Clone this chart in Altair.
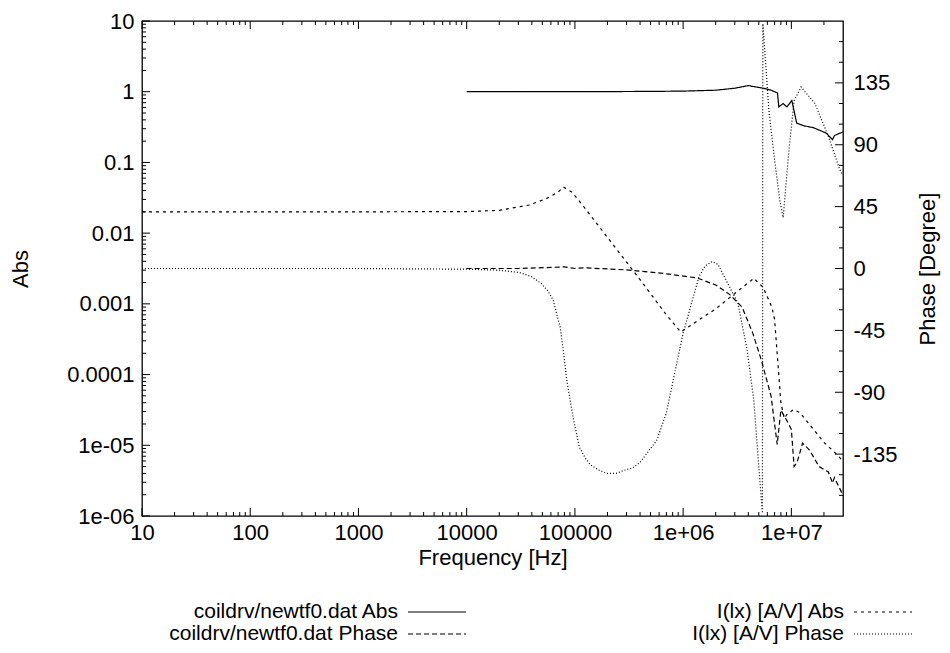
import altair as alt
import pandas as pd

# ---------------- data ----------------
freq_coil_abs = [1e4, 1e5, 5e5, 1e6, 2e6, 3e6, 4e6, 5.5e6, 6.5e6, 7.0e6, 7.45e6, 7.65e6,
                 8.4e6, 9.1e6, 1.01e7, 1.12e7, 1.3e7, 1.6e7, 2.1e7, 2.4e7, 2.5e7, 3e7]
abs_coil = [1.0, 1.0, 1.01, 1.02, 1.05, 1.12, 1.22, 1.12, 1.05, 1.0, 0.96, 0.61,
            0.68, 0.61, 0.75, 0.36, 0.33, 0.31, 0.26, 0.21, 0.24, 0.27]

freq_coil_phase = [1e4, 3e4, 6e4, 8e4, 1e5, 1.2e5, 3e5, 6.2e5, 1.35e6, 2e6, 2.7e6, 3.5e6,
                   4.4e6, 5.3e6, 6.5e6, 7.4e6, 8.0e6, 9.0e6, 1.0e7, 1.06e7, 1.13e7, 1.27e7,
                   1.47e7, 1.8e7, 2.2e7, 2.4e7, 2.5e7, 3e7]
phase_coil = [0, 0, 0.8, 1.2, 0, 0.5, -1, -3.3, -6.9, -12, -19, -28,
              -47, -67, -93, -128, -103, -110, -117, -144, -141, -127,
              -132, -144, -148, -156, -152, -165]

freq_ilx_abs = [10, 100, 1e3, 1e4, 2e4, 3.8e4, 5.5e4, 7e4, 7.8e4, 9.4e4, 1.2e5, 2e5, 4e5,
                7e5, 9.5e5, 1.3e6, 2e6, 3e6, 4.5e6, 5.5e6, 6.6e6, 7.0e6, 7.5e6, 8.0e6,
                8.6e6, 9.2e6, 1.05e7, 1.2e7, 1.5e7, 2e7, 2.5e7, 3e7]
abs_ilx = [0.02, 0.02, 0.02, 0.0202, 0.021, 0.025, 0.031, 0.038, 0.045, 0.038, 0.024, 0.0087,
           0.0022, 7e-4, 4e-4, 5.5e-4, 8.5e-4, 1.4e-3, 2.3e-3, 1.7e-3, 9e-4, 6e-4, 1.5e-4,
           4e-5, 2.4e-5, 2.8e-5, 3.2e-5, 2.9e-5, 1.9e-5, 1.1e-5, 8e-6, 6e-6]

freq_ilx_phase = [10, 1e3, 1e4, 2e4, 3.1e4, 4e4, 4.8e4, 5.6e4, 6.3e4, 7.3e4, 7.8e4, 8.4e4,
                  9.6e4, 1.1e5, 1.25e5, 1.4e5, 1.7e5, 2.0e5, 2.4e5, 2.8e5, 3.4e5, 4e5,
                  5.7e5, 7e5, 8.1e5, 9e5, 1.0e6, 1.15e6, 1.4e6, 1.6e6, 1.85e6, 2.1e6,
                  2.4e6, 3.2e6, 3.9e6, 4.5e6, 5.0e6, 5.4e6, 5.45e6, 6.2e6, 7e6, 7.8e6,
                  8.4e6, 9.5e6, 1.06e7, 1.23e7, 1.65e7, 2.2e7, 2.8e7, 3e7]
phase_ilx = [0, 0, -0.5, -1.2, -3, -6, -10.5, -16, -23, -42.5, -59, -81,
             -108, -130, -138, -143, -147, -149, -149, -147, -145, -141,
             -125, -105, -81, -64, -47, -30, -6, 2, 5, 3,
             -6, -25, -59, -96, -144, -178, 178, 115, 79, 50,
             37, 86, 122, 132, 120, 96, 72, 68]

legend_labels = ["coildrv/newtf0.dat Abs", "I(lx) [A/V] Abs",
                 "coildrv/newtf0.dat Phase", "I(lx) [A/V] Phase"]
legend_col = [0, 1, 0, 1]
legend_row = [0, 0, 1, 1]

x_major = [10, 100, 1e3, 1e4, 1e5, 1e6, 1e7]
x_minor = [m * 10 ** k for k in range(1, 7) for m in range(2, 10)] + [2e7]
y_major = [1e-6, 1e-5, 1e-4, 1e-3, 1e-2, 1e-1, 1, 10]
y_minor = [m * 10.0 ** k for k in range(-6, 1) for m in range(2, 10)]
p_major = [-135, -90, -45, 0, 45, 90, 135]
p_minor = [v for v in range(-165, 180, 15) if v % 45 != 0]

# ---------------- styling ----------------
FONT = "Liberation Sans"
FS = 22
FS_LEG = 21
MAJ = 8
MIN = 4
W, H = 701, 495

dash_solid = [1, 0]
dash_long = [5, 3]
dash_short = [3, 4]
dash_dot = [1, 2]

xs = alt.Scale(type="log", domain=[10, 3e7], nice=False)
ys_abs = alt.Scale(type="log", domain=[1e-6, 10], nice=False)
ys_ph = alt.Scale(type="linear", domain=[-180, 180], nice=False, zero=False)

common = dict(domain=False, grid=False, ticks=False,
              labelFont=FONT, labelFontSize=FS, labelColor="black",
              titleFont=FONT, titleFontSize=FS, titleColor="black",
              titleFontWeight="normal", labelFlush=False, labelOverlap=False)

x_bottom_axis = alt.Axis(
    orient="bottom", values=x_major, offset=0, tickSize=0, labelPadding=6,
    labelExpr="datum.value > 5e6 ? '1e+07' : datum.value > 5e5 ? '1e+06' : format(datum.value, 'd')",
    title="Frequency [Hz]", titlePadding=4, **common)
y_left_axis = alt.Axis(
    orient="left", values=y_major, offset=0, tickSize=0, labelPadding=8,
    labelExpr="datum.value < 5e-6 ? '1e-06' : datum.value < 5e-5 ? '1e-05' : format(datum.value, '~g')",
    title="Abs", titlePadding=34, **common)
y_right_axis = alt.Axis(
    orient="right", values=p_major, offset=0, tickSize=0, labelPadding=10,
    labelExpr="'' + datum.value", title="Phase [Degree]", titleAngle=270,
    titleBaseline="top", titlePadding=20, **common)


def line_layer(freq, vals, yscale, dash, xaxis=None, yaxis=None):
    df = pd.DataFrame({"freq": freq, "val": vals})
    return alt.Chart(df).mark_line(color="black", strokeWidth=1.2, strokeDash=dash,
                                   clip=True).encode(
        x=alt.X("freq:Q", scale=xs, axis=xaxis),
        y=alt.Y("val:Q", scale=yscale, axis=yaxis),
        order="freq:Q",
    )


def x_ticks(values, length, top):
    df = pd.DataFrame({"v": values})
    ys = (alt.value(0), alt.value(length)) if top else (alt.value(H), alt.value(H - length))
    return alt.Chart(df).mark_rule(color="black", strokeWidth=1).encode(
        x=alt.X("v:Q", scale=xs, axis=None), y=ys[0], y2=ys[1])


def y_ticks(values, scale, length, right):
    df = pd.DataFrame({"v": values})
    xs_ = (alt.value(W), alt.value(W - length)) if right else (alt.value(0), alt.value(length))
    return alt.Chart(df).mark_rule(color="black", strokeWidth=1).encode(
        y=alt.Y("v:Q", scale=scale, axis=None), x=xs_[0], x2=xs_[1])


l1 = line_layer(freq_coil_abs, abs_coil, ys_abs, dash_solid, x_bottom_axis, y_left_axis)
l2 = line_layer(freq_coil_phase, phase_coil, ys_ph, dash_long, None, y_right_axis)
l3 = line_layer(freq_ilx_abs, abs_ilx, ys_abs, dash_short)
l4 = line_layer(freq_ilx_phase, phase_ilx, ys_ph, dash_dot)

ticks = [
    x_ticks(x_major, MAJ, False), x_ticks(x_major, MAJ, True),
    x_ticks(x_minor, MIN, False), x_ticks(x_minor, MIN, True),
    y_ticks(y_major, ys_abs, MAJ, False), y_ticks(y_minor, ys_abs, MIN, False),
    y_ticks(p_major, ys_ph, MAJ, True), y_ticks(p_minor, ys_ph, MIN, True),
]

leg_df = pd.DataFrame({"label": legend_labels, "col": legend_col, "row": legend_row})
leg_x = alt.Scale(domain=[0, 1], range=[256, 702])
leg_y = alt.Scale(domain=[0, 1], range=[591, 613])
dash_scale = alt.Scale(domain=legend_labels,
                       range=[dash_solid, dash_short, dash_long, dash_dot])

leg_text = alt.Chart(leg_df).mark_text(align="right", baseline="middle", font=FONT,
                                       fontSize=FS_LEG, color="black").encode(
    x=alt.X("col:Q", scale=leg_x, axis=None),
    y=alt.Y("row:Q", scale=leg_y, axis=None),
    text="label:N",
)
leg_rule = alt.Chart(leg_df).mark_rule(color="black", strokeWidth=1.2, xOffset=10,
                                       x2Offset=68).encode(
    x=alt.X("col:Q", scale=leg_x, axis=None),
    x2="col:Q",
    y=alt.Y("row:Q", scale=leg_y, axis=None),
    strokeDash=alt.StrokeDash("label:N", scale=dash_scale, legend=None),
)

chart = alt.layer(l1, l2, l3, l4, *ticks, leg_text, leg_rule).resolve_scale(
    x="independent", y="independent", strokeDash="independent"
).resolve_axis(
    x="independent", y="independent"
).properties(
    width=W, height=H,
    autosize=alt.AutoSizeParams(type="none"),
    padding={"left": 134, "top": 13, "right": 99, "bottom": 129},
    background="white",
).configure_view(stroke="black", strokeWidth=1.3)

chart.save("out.html", embed_options={"renderer": "svg", "actions": False})
